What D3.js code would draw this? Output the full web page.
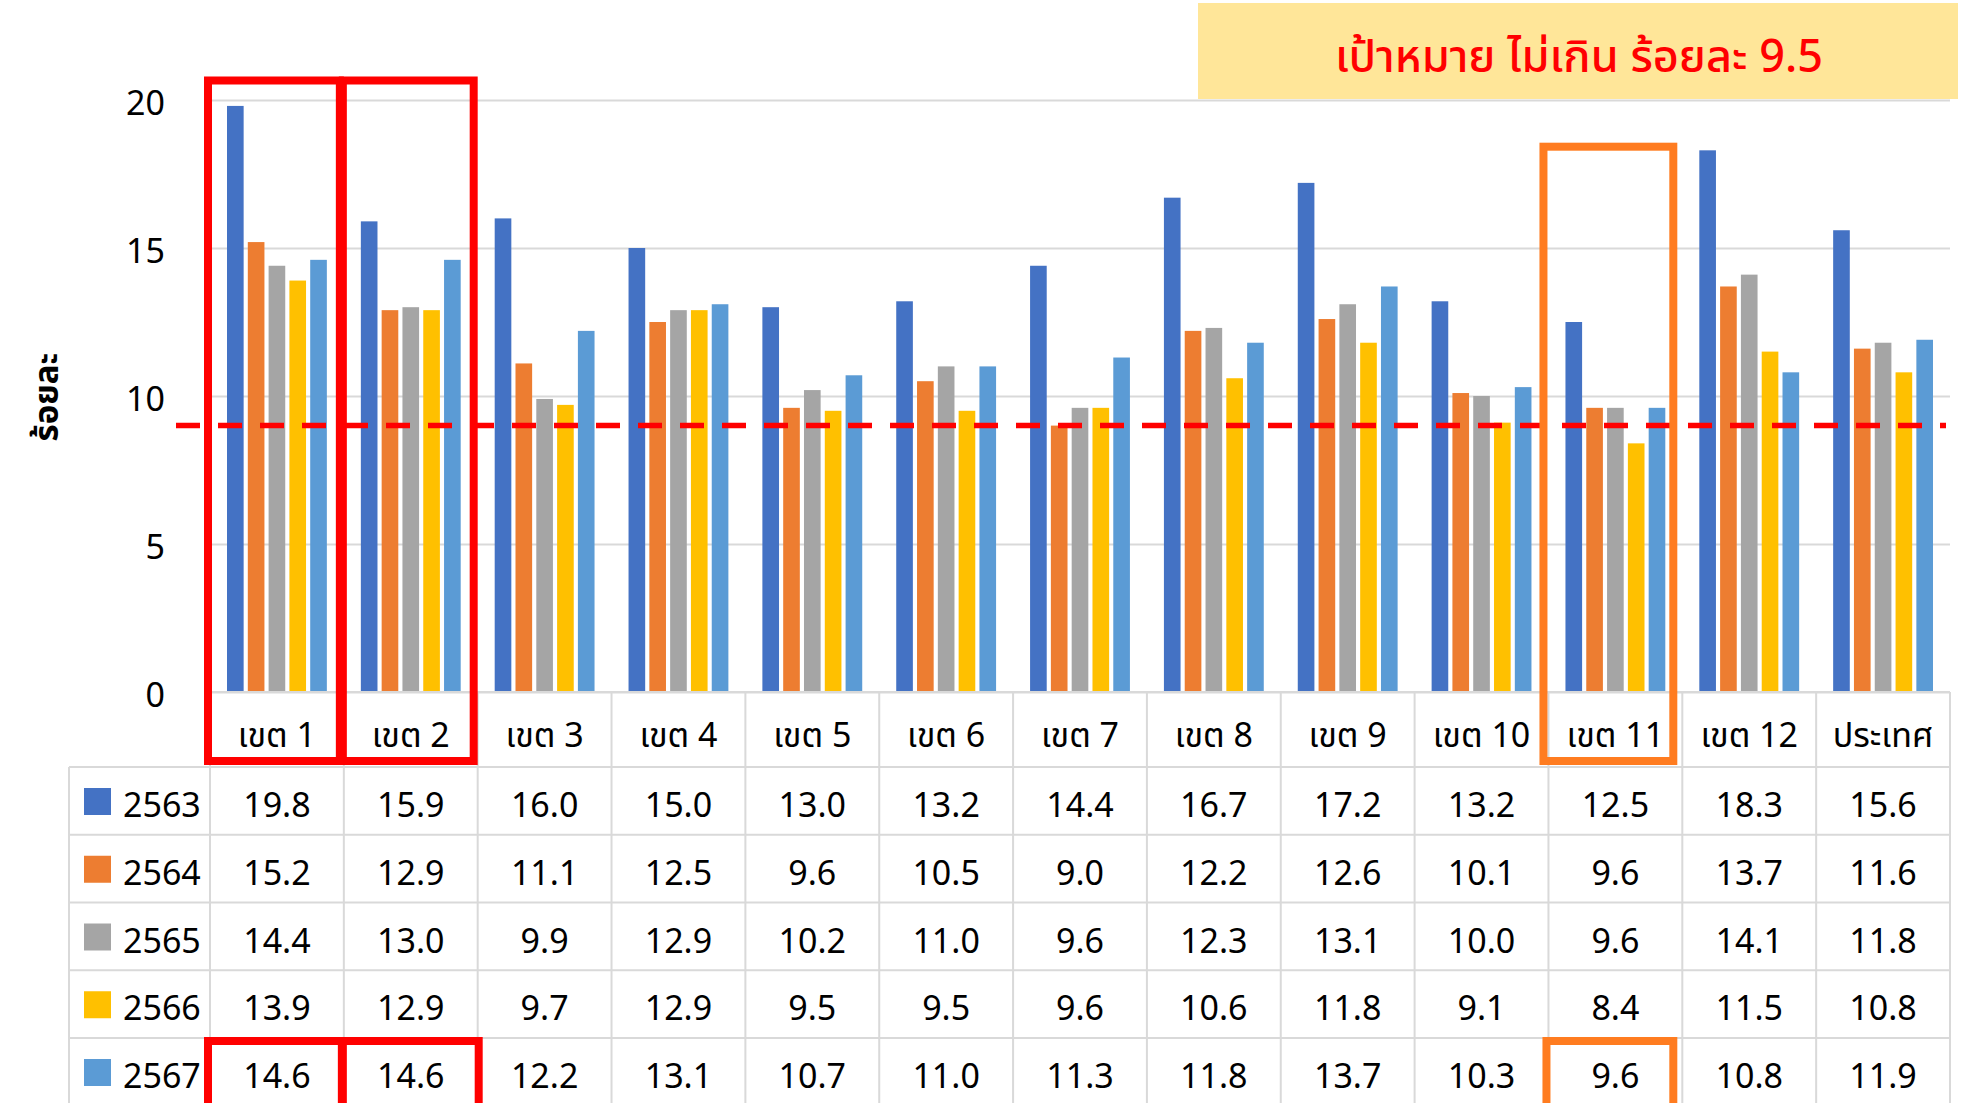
<!DOCTYPE html>
<html lang='th'>
  <head>
    <meta charset='utf-8'>
    <title>ร้อยละ เขต</title>
    <script type='text/javascript' src='https://cdn.jsdelivr.net/npm/d3@7/dist/d3.min.js'></script>
    <style type='text/css'>
      body {
        margin: 0;
        background-color: white;
        font-family: 'Noto Sans Thai', 'Noto Sans', 'DejaVu Sans', sans-serif;
      }
      svg {
        display: block;
        background-color: white;
      }
    </style>
  </head>
  <body>
    <div id='chart'></div>
    <script type='text/javascript'>

    // Data
    var categories = ['เขต 1', 'เขต 2', 'เขต 3', 'เขต 4', 'เขต 5', 'เขต 6', 'เขต 7',
                      'เขต 8', 'เขต 9', 'เขต 10', 'เขต 11', 'เขต 12', 'ประเทศ'];
    var years = ['2563', '2564', '2565', '2566', '2567'];
    var v2563 = [19.8, 15.9, 16.0, 15.0, 13.0, 13.2, 14.4, 16.7, 17.2, 13.2, 12.5, 18.3, 15.6];
    var v2564 = [15.2, 12.9, 11.1, 12.5, 9.6, 10.5, 9.0, 12.2, 12.6, 10.1, 9.6, 13.7, 11.6];
    var v2565 = [14.4, 13.0, 9.9, 12.9, 10.2, 11.0, 9.6, 12.3, 13.1, 10.0, 9.6, 14.1, 11.8];
    var v2566 = [13.9, 12.9, 9.7, 12.9, 9.5, 9.5, 9.6, 10.6, 11.8, 9.1, 8.4, 11.5, 10.8];
    var v2567 = [14.6, 14.6, 12.2, 13.1, 10.7, 11.0, 11.3, 11.8, 13.7, 10.3, 9.6, 10.8, 11.9];
    var seriesValues = [v2563, v2564, v2565, v2566, v2567];
    var yTicks = [0, 5, 10, 15, 20];
    var targetLine = 9;
    var targetText = 'เป้าหมาย ไม่เกิน ร้อยละ 9.5';
    var yTitle = 'ร้อยละ';
    var redMarked = ['เขต 1', 'เขต 2'];
    var orangeMarked = ['เขต 11'];

    // Dimensions
    var W = 1970, H = 1103;
    var plotLeft = 210, plotRight = 1950, plotTop = 100, plotBottom = 692;
    var headH = 75, rowH = 67.75, tableLeft = 69;
    var colors = ['#4472C4', '#ED7D31', '#A5A5A5', '#FFC000', '#5B9BD5'];
    var gridColor = '#D9D9D9';

    var svg = d3.select('#chart')
      .append('svg')
      .attr('width', W)
      .attr('height', H);

    // Scales
    var x0 = d3.scaleBand().domain(categories).range([plotLeft, plotRight]);
    var x1 = d3.scaleBand().domain(years).range([17, x0.bandwidth() - 17]).paddingInner(0.2);
    var y = d3.scaleLinear().domain([0, 20]).range([plotBottom, plotTop]);
    var color = d3.scaleOrdinal().domain(years).range(colors);
    var rowY = d3.scaleBand().domain(years)
      .range([plotBottom + headH, plotBottom + headH + years.length * rowH]);

    // Gridlines + y labels
    var yAxis = svg.append('g')
      .attr('transform', 'translate(' + plotLeft + ',0)')
      .call(d3.axisLeft(y).tickValues(yTicks).tickSize(-(plotRight - plotLeft)).tickPadding(45));
    yAxis.select('.domain').remove();
    yAxis.selectAll('.tick line').attr('stroke', gridColor).attr('stroke-width', 2);
    yAxis.selectAll('.tick text')
      .attr('fill', '#000')
      .attr('dy', '0.42em')
      .style('font-size', '34px')
      .style('font-family', "'Noto Sans Thai', 'Noto Sans', sans-serif");

    // y title
    svg.append('text')
      .attr('transform', 'translate(58,' + 397 + ') rotate(-90)')
      .attr('text-anchor', 'middle')
      .style('font-size', '33px')
      .style('font-weight', 'bold')
      .text(yTitle);

    // Bars
    var table = categories.map(function(c, i) {
      return { cat: c, vals: years.map(function(yr, j) { return { year: yr, value: seriesValues[j][i] }; }) };
    });

    var groups = svg.append('g').selectAll('g')
      .data(table)
      .enter()
      .append('g')
      .attr('transform', function(d) { return 'translate(' + x0(d.cat) + ',0)'; });

    groups.selectAll('rect')
      .data(function(d) { return d.vals; })
      .enter()
      .append('rect')
      .attr('x', function(d) { return x1(d.year); })
      .attr('y', function(d) { return y(d.value); })
      .attr('width', x1.bandwidth())
      .attr('height', function(d) { return y(0) - y(d.value); })
      .attr('fill', function(d) { return color(d.year); });

    // Table grid
    var tableBottom = rowY.range()[1];
    var grid = svg.append('g').attr('stroke', gridColor).attr('stroke-width', 2);
    grid.append('line').attr('x1', plotLeft).attr('x2', plotRight).attr('y1', plotBottom).attr('y2', plotBottom);
    years.forEach(function(yr) {
      grid.append('line').attr('x1', tableLeft).attr('x2', plotRight)
        .attr('y1', rowY(yr)).attr('y2', rowY(yr));
    });
    grid.append('line').attr('x1', tableLeft).attr('x2', tableLeft)
      .attr('y1', rowY(years[0])).attr('y2', tableBottom);
    categories.forEach(function(c) {
      grid.append('line').attr('x1', x0(c)).attr('x2', x0(c)).attr('y1', plotBottom).attr('y2', tableBottom);
    });
    grid.append('line').attr('x1', plotRight).attr('x2', plotRight).attr('y1', plotBottom).attr('y2', tableBottom);

    // Category labels
    svg.append('g').selectAll('text')
      .data(categories)
      .enter()
      .append('text')
      .attr('x', function(d) { return x0(d) + x0.bandwidth() / 2; })
      .attr('y', plotBottom + 55)
      .attr('text-anchor', 'middle')
      .style('font-size', '34px')
      .text(function(d) { return d; });

    // Legend column
    var legend = svg.append('g').selectAll('g')
      .data(years)
      .enter()
      .append('g')
      .attr('transform', function(d) { return 'translate(0,' + rowY(d) + ')'; });
    legend.append('rect')
      .attr('x', 84).attr('y', 21).attr('width', 27).attr('height', 27)
      .attr('fill', function(d) { return color(d); });
    legend.append('text')
      .attr('x', 123).attr('y', 50)
      .style('font-size', '34px')
      .text(function(d) { return d; });

    // Cell values
    years.forEach(function(yr, j) {
      svg.append('g').selectAll('text')
        .data(seriesValues[j])
        .enter()
        .append('text')
        .attr('x', function(d, i) { return x0(categories[i]) + x0.bandwidth() / 2; })
        .attr('y', rowY(yr) + 50)
        .attr('text-anchor', 'middle')
        .style('font-size', '34px')
        .text(function(d) { return d.toFixed(1); });
    });

    // Target line
    svg.append('line')
      .attr('x1', 176).attr('x2', 1946)
      .attr('y1', y(targetLine)).attr('y2', y(targetLine))
      .attr('stroke', '#FF0000')
      .attr('stroke-width', 5.5)
      .attr('stroke-dasharray', '24,18');

    // Highlight frames
    function frame(cat, col, top, bottom, dx1, dx2) {
      svg.append('rect')
        .attr('x', x0(cat) + dx1)
        .attr('y', top)
        .attr('width', x0.bandwidth() - dx1 + dx2)
        .attr('height', bottom - top)
        .attr('fill', 'none')
        .attr('stroke', col)
        .attr('stroke-width', 8);
    }
    var lastRow = rowY(years[years.length - 1]);
    redMarked.forEach(function(c, i) {
      frame(c, '#FF0000', 80.5, 761, i === 0 ? -2 : -1, -4);
      frame(c, '#FF0000', lastRow + 3, lastRow + 80, i === 0 ? -2 : -1, i === 0 ? -2 : 1);
    });
    orangeMarked.forEach(function(c) {
      frame(c, '#FF7C20', 146.7, 761, -5, -9);
      frame(c, '#FF7C20', lastRow + 3, lastRow + 80, -2, -9);
    });

    // Target box
    svg.append('rect')
      .attr('x', 1198).attr('y', 3)
      .attr('width', 760).attr('height', 96)
      .attr('fill', '#FFE699');
    svg.append('text')
      .attr('x', 1579).attr('y', 72)
      .attr('text-anchor', 'middle')
      .attr('fill', '#FF0000')
      .style('font-size', '45px')
      .style('font-weight', '500')
      .text(targetText);

    </script>
  </body>
</html>
